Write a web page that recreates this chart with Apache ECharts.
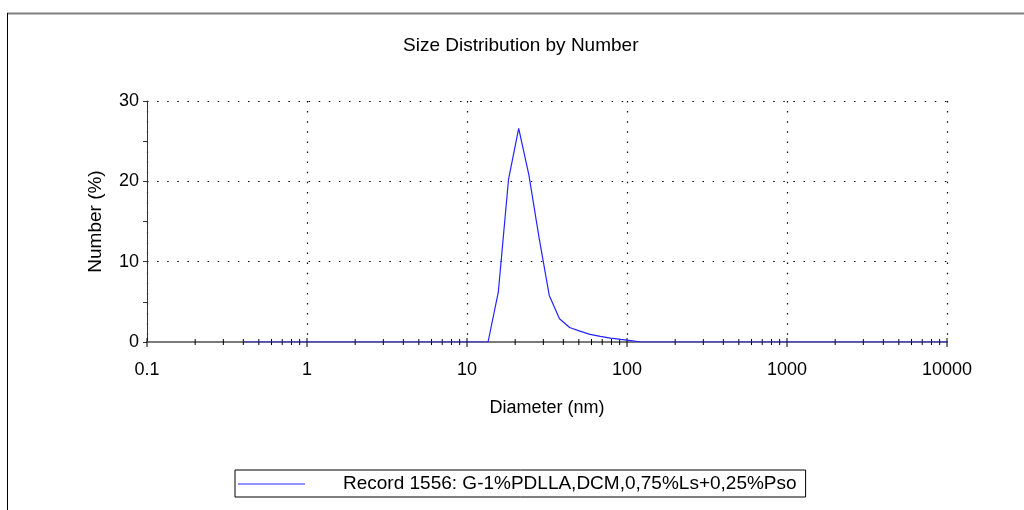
<!DOCTYPE html>
<html>
<head>
<meta charset="utf-8">
<title>Size Distribution by Number</title>
<script src="https://cdn.jsdelivr.net/npm/echarts@6/dist/echarts.min.js"></script>
<style>
  html, body { margin: 0; padding: 0; background: #ffffff; }
  #chart { width: 1024px; height: 510px; }
</style>
</head>
<body>
<div id="chart"></div>
<script>
// Size classes (nm), log-spaced bins, one row per decade
const sizesA = [0.4, 0.4632, 0.5365, 0.6213, 0.7195, 0.8332, 0.9649];
const sizesB = [1.117, 1.294, 1.499, 1.736, 2.010, 2.328, 2.696, 3.122, 3.615, 4.187, 4.849, 5.615, 6.503, 7.531, 8.721];
const sizesC = [10.10, 11.70, 13.54, 15.69, 18.17, 21.04, 24.36, 28.21, 32.67, 37.84, 43.82, 50.75, 58.77, 68.06, 78.82, 91.28];
const sizesD = [105.7, 122.4, 141.8, 164.2, 190.1, 220.2, 255.0, 295.3, 342.0, 396.1, 458.7, 531.2, 615.1, 712.4, 825.0, 955.4];
const sizesE = [1106, 1281, 1484, 1718, 1990, 2305, 2669, 3091, 3580, 4145, 4801, 5560, 6439, 7456, 8635, 10000];

// Number (%) in each size class, same rows as above
const numberA = [0, 0, 0, 0, 0, 0, 0];
const numberB = [0, 0, 0, 0, 0, 0, 0, 0, 0, 0, 0, 0, 0, 0, 0];
const numberC = [0, 0, 0, 6.2, 20.2, 26.6, 20.8, 13.0, 5.8, 2.9, 1.8, 1.35, 0.95, 0.7, 0.48, 0.32];
const numberD = [0.18, 0, 0, 0, 0, 0, 0, 0, 0, 0, 0, 0, 0, 0, 0, 0];
const numberE = [0, 0, 0, 0, 0, 0, 0, 0, 0, 0, 0, 0, 0, 0, 0, 0];

const recordName = 'Record 1556: G-1%PDLLA,DCM,0,75%Ls+0,25%Pso';

// Axis ticks on the diameter axis: decades and the 2..9 steps between them
const decadeTicks = [0.1, 1, 10, 100, 1000, 10000];
const stepTicks = [
  0.2, 0.3, 0.4, 0.5, 0.6, 0.7, 0.8, 0.9,
  2, 3, 4, 5, 6, 7, 8, 9,
  20, 30, 40, 50, 60, 70, 80, 90,
  200, 300, 400, 500, 600, 700, 800, 900,
  2000, 3000, 4000, 5000, 6000, 7000, 8000, 9000
];

const sizes = [].concat(sizesA, sizesB, sizesC, sizesD, sizesE);
const numbers = [].concat(numberA, numberB, numberC, numberD, numberE);
const seriesData = sizes.map((s, i) => [s, numbers[i]]);

const tickData = decadeTicks.map(v => [v, 1]).concat(stepTicks.map(v => [v, 0]));

const FONT = '"Liberation Sans", Arial, sans-serif';
const LINE_BLUE = '#2424ff';
const dotted = { color: '#000000', width: 1.2, type: [1.5, 8.6] };

const chart = echarts.init(document.getElementById('chart'), null, { renderer: 'canvas' });

chart.setOption({
  animation: false,
  backgroundColor: '#ffffff',
  textStyle: { fontFamily: FONT },
  title: {
    text: 'Size Distribution by Number',
    left: 403,
    top: 36,
    padding: 0,
    textStyle: { fontFamily: FONT, fontSize: 19, fontWeight: 'normal', color: '#000000' }
  },
  grid: { left: 147, right: 77, top: 101, bottom: 168, containLabel: false },
  xAxis: {
    type: 'log',
    logBase: 10,
    min: 0.1,
    max: 10000,
    name: 'Diameter (nm)',
    nameLocation: 'middle',
    nameGap: 57,
    nameTextStyle: { fontFamily: FONT, fontSize: 18, color: '#000000' },
    axisLine: { show: true, lineStyle: { color: '#7a7a7a', width: 2 } },
    axisTick: { show: false },
    axisLabel: {
      margin: 19,
      fontFamily: FONT,
      fontSize: 18,
      color: '#000000',
      formatter: v => String(+Number(v).toPrecision(4))
    },
    splitLine: { show: true, lineStyle: dotted }
  },
  yAxis: {
    type: 'value',
    min: 0,
    max: 30,
    interval: 10,
    name: 'Number (%)',
    nameLocation: 'middle',
    nameGap: 42,
    nameRotate: 90,
    nameTextStyle: { fontFamily: FONT, fontSize: 19, color: '#000000' },
    axisLine: { show: true, lineStyle: { color: '#333333', width: 1 } },
    axisTick: { show: true, length: 4, lineStyle: { color: '#333333' } },
    minorTick: { show: true, splitNumber: 2, length: 4, lineStyle: { color: '#333333' } },
    axisLabel: { margin: 8, fontFamily: FONT, fontSize: 18, color: '#000000' },
    splitLine: { show: true, lineStyle: dotted }
  },
  legend: {
    left: 235,
    top: 470,
    orient: 'horizontal',
    icon: 'rect',
    itemWidth: 67,
    itemHeight: 1,
    itemGap: 0,
    padding: [4.5, 9, 3.5, 3],
    borderColor: '#000000',
    borderWidth: 1,
    backgroundColor: '#ffffff',
    itemStyle: { color: LINE_BLUE },
    data: [recordName],
    textStyle: { fontFamily: FONT, fontSize: 19, color: '#000000', padding: [0, 0, 0, 33] }
  },
  series: [
    {
      name: 'axis ticks',
      type: 'custom',
      silent: true,
      z: 3,
      data: tickData,
      renderItem: function (params, api) {
        const p = api.coord([api.value(0), 0]);
        const major = api.value(1) === 1;
        const up = major ? 4 : 3;
        const down = major ? 5 : 3;
        return {
          type: 'line',
          shape: { x1: p[0], y1: p[1] - up, x2: p[0], y2: p[1] + down },
          style: { stroke: '#000000', lineWidth: 1 }
        };
      }
    },
    {
      name: recordName,
      type: 'line',
      data: seriesData,
      symbol: 'none',
      z: 4,
      lineStyle: { color: LINE_BLUE, width: 1.2 },
      itemStyle: { color: LINE_BLUE }
    }
  ],
  graphic: [
    {
      type: 'line',
      shape: { x1: 7, y1: 13.5, x2: 1024, y2: 13.5 },
      style: { stroke: '#7f7f7f', lineWidth: 2 }
    },
    {
      type: 'line',
      shape: { x1: 7.5, y1: 13, x2: 7.5, y2: 510 },
      style: { stroke: '#000000', lineWidth: 1 }
    }
  ]
});
</script>
</body>
</html>
